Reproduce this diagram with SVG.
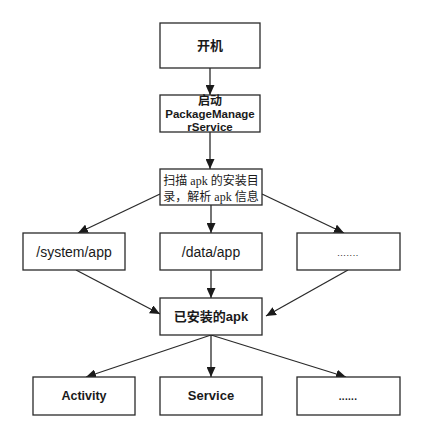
<svg xmlns="http://www.w3.org/2000/svg" width="425" height="431" viewBox="0 0 425 431">
  <style>
    .box { fill: #ffffff; stroke: #2a2a2a; stroke-width: 1.3; }
    .edge { fill: none; stroke: #2a2a2a; stroke-width: 1.3; }
    .sans { font-family: "Liberation Sans", Arial, "Noto Sans CJK SC", sans-serif; fill: #1a1a1a; text-anchor: middle; }
    .bold { font-weight: bold; }
    .serif { font-family: "Liberation Serif", "Noto Sans CJK SC", serif; fill: #1a1a1a; text-anchor: middle; font-size: 12px; }
  </style>
  <defs>
    <marker id="arrow" markerUnits="userSpaceOnUse" markerWidth="10" markerHeight="9" refX="10" refY="4.5" orient="auto">
      <path d="M0,0 L10,4.5 L0,9 z" fill="#1a1a1a"/>
    </marker>
  </defs>

  <rect width="425" height="431" fill="#ffffff"/>

  <g id="connectors">
    <line class="edge" x1="210" y1="68" x2="210" y2="95" marker-end="url(#arrow)"/>
    <line class="edge" x1="210" y1="132" x2="210" y2="169" marker-end="url(#arrow)"/>
    <line class="edge" x1="211" y1="205" x2="211" y2="233" marker-end="url(#arrow)"/>
    <line class="edge" x1="160" y1="194" x2="78" y2="233" marker-end="url(#arrow)"/>
    <line class="edge" x1="262" y1="194" x2="344" y2="233" marker-end="url(#arrow)"/>
    <line class="edge" x1="76" y1="270" x2="160" y2="314" marker-end="url(#arrow)"/>
    <line class="edge" x1="211" y1="270" x2="211" y2="298" marker-end="url(#arrow)"/>
    <line class="edge" x1="348" y1="270" x2="266" y2="316" marker-end="url(#arrow)"/>
    <line class="edge" x1="211" y1="335" x2="86" y2="377" marker-end="url(#arrow)"/>
    <line class="edge" x1="211" y1="335" x2="211" y2="377" marker-end="url(#arrow)"/>
    <line class="edge" x1="211" y1="335" x2="346" y2="377" marker-end="url(#arrow)"/>
  </g>

  <g id="boot">
    <rect class="box" x="160" y="23" width="100" height="45"/>
    <text class="sans bold" x="210" y="50" font-size="13">开机</text>
  </g>

  <g id="start-pms">
    <rect class="box" x="160" y="95" width="100" height="37"/>
    <text class="sans bold" x="210" y="105" font-size="12">启动</text>
    <text class="sans bold" x="210" y="118" font-size="11.5">PackageManage</text>
    <text class="sans bold" x="210" y="131" font-size="11.5">rService</text>
  </g>

  <g id="scan">
    <rect class="box" x="160" y="169" width="102" height="36"/>
    <text class="serif" x="211" y="185">扫描 apk 的安装目</text>
    <text class="serif" x="211" y="201">录，解析 apk 信息</text>
  </g>

  <g id="system-app">
    <rect class="box" x="23" y="233" width="102" height="37"/>
    <text class="sans" x="74" y="257" font-size="14">/system/app</text>
  </g>

  <g id="data-app">
    <rect class="box" x="160" y="233" width="102" height="37"/>
    <text class="sans" x="211" y="257" font-size="14">/data/app</text>
  </g>

  <g id="other-dirs">
    <rect class="box" x="297" y="233" width="103" height="37"/>
    <text class="sans" x="348" y="256" font-size="9" letter-spacing="0.6">.......</text>
  </g>

  <g id="installed-apk">
    <rect class="box" x="160" y="298" width="102" height="37"/>
    <text class="sans bold" x="211" y="321" font-size="13">已安装的apk</text>
  </g>

  <g id="activity">
    <rect class="box" x="33" y="377" width="102" height="38"/>
    <text class="sans bold" x="84" y="400" font-size="12.5">Activity</text>
  </g>

  <g id="service">
    <rect class="box" x="160" y="377" width="102" height="38"/>
    <text class="sans bold" x="211" y="400" font-size="13">Service</text>
  </g>

  <g id="other-components">
    <rect class="box" x="297" y="377" width="103" height="38"/>
    <text class="sans bold" x="348" y="400" font-size="10" letter-spacing="0.3">......</text>
  </g>
</svg>
